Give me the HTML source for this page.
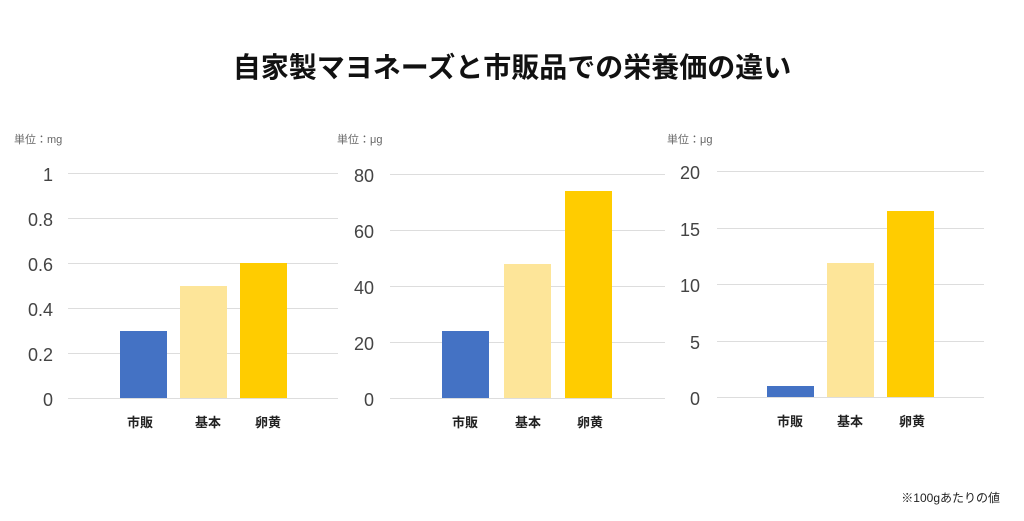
<!DOCTYPE html>
<html><head><meta charset="utf-8"><style>
body{margin:0;width:1024px;height:521px;background:#fff;overflow:hidden;position:relative;font-family:"Liberation Sans","Noto Sans CJK JP",sans-serif}
.t{position:absolute;white-space:nowrap}
.g{position:absolute;height:1px;background:#ddd}
.b{position:absolute}
.tk{position:absolute;font-size:18px;color:#444;text-align:right;width:40px}
.u{position:absolute;font-size:11px;color:#666}
.x{position:absolute;font-size:13px;color:#222;width:60px;text-align:center;font-weight:bold}
</style></head><body>
<div class="t" style="left:0;width:1024px;text-align:center;top:46px;font-size:28px;font-weight:bold;color:#111">自家製マヨネーズと市販品での栄養価の違い</div>
<div class="t" style="right:24px;top:489px;font-size:12px;color:#222">※100gあたりの値</div>
<div id="c"></div>
<script>
const charts=[
{gx:68,gw:270,tr:53,ticks:["1","0.8","0.6","0.4","0.2","0"],top:173,bot:398,max:1,v:[0.3,0.5,0.6],bx:[120,180,240],ux:14,uy:131,unit:"単位：mg",lx:[140,208,268]},
{gx:390,gw:275,tr:374,ticks:["80","60","40","20","0"],top:174,bot:398,max:80,v:[24,48,74],bx:[442,504,565],ux:337,uy:131,unit:"単位：μg",lx:[465,528,590]},
{gx:717,gw:267,tr:700,ticks:["20","15","10","5","0"],top:171,bot:397,max:20,v:[1,11.9,16.5],bx:[767,827,887],ux:667,uy:131,unit:"単位：μg",lx:[790,850,912]}];
const cols=["#4472c4","#fde599","#ffcc00"],names=["市販","基本","卵黄"];
let h="";
for(const c of charts){
 const n=c.ticks.length-1;
 c.ticks.forEach((t,i)=>{const y=c.top+(c.bot-c.top)*i/n;
  h+=`<div class="g" style="left:${c.gx}px;width:${c.gw}px;top:${y}px"></div><div class="tk" style="left:${c.tr-40}px;top:${y-8}px">${t}</div>`;});
 c.v.forEach((v,i)=>{const hh=(c.bot-c.top)*v/c.max;
  h+=`<div class="b" style="left:${c.bx[i]}px;width:47px;top:${c.bot-hh}px;height:${hh}px;background:${cols[i]}"></div>`;
  h+=`<div class="x" style="left:${c.lx[i]-30}px;top:${c.bot+14}px">${names[i]}</div>`;});
 h+=`<div class="u" style="left:${c.ux}px;top:${c.uy}px">${c.unit}</div>`;
}
document.getElementById("c").innerHTML=h;
</script>
</body></html>
